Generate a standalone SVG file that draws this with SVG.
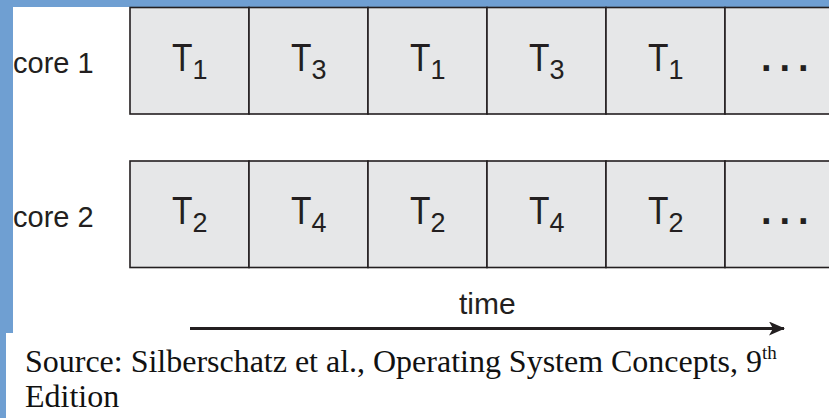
<svg xmlns="http://www.w3.org/2000/svg" width="829" height="418" viewBox="0 0 829 418">
  <style>
    .slot { fill: #e6e7e8; stroke: #231f20; stroke-width: 1.6; }
    .core { font-family: "Liberation Sans", Arial, sans-serif; font-size: 29px; fill: #231f20; }
    .task { font-family: "Liberation Sans", Arial, sans-serif; font-size: 39px; fill: #231f20; }
    .sub { font-size: 27px; }
    .more { font-family: "Liberation Sans", Arial, sans-serif; font-weight: bold; font-size: 38px; letter-spacing: 8px; fill: #231f20; }
    .time { font-family: "Liberation Sans", Arial, sans-serif; font-size: 30px; fill: #231f20; }
    .src { font-family: "Liberation Serif", "Times New Roman", serif; font-size: 32px; fill: #111111; }
    .sup { font-size: 19px; }
    .frame { fill: #6f9fd2; }
  </style>
  <defs>
    <marker id="arrowhead" markerUnits="userSpaceOnUse" markerWidth="16" markerHeight="14" refX="15" refY="7" orient="auto">
      <path d="M0,0 L16,7 L0,14 L4,7 Z" fill="#231f20"/>
    </marker>
  </defs>

  <rect width="829" height="418" fill="#ffffff"/>

  <!-- slide frame -->
  <rect class="frame" x="0" y="0" width="829" height="7"/>
  <rect class="frame" x="0" y="0" width="13" height="333"/>
  <rect class="frame" x="0" y="333" width="6" height="85"/>

  <!-- core 1 timeline -->
  <g id="core1">
    <text class="core" x="13" y="73">core 1</text>
    <g id="core1-slot1"><rect class="slot" x="130" y="7.5" width="119" height="106.5"/><text class="task" x="172" y="71"><tspan textLength="20.5" lengthAdjust="spacingAndGlyphs">T</tspan><tspan class="sub" dy="8">1</tspan></text></g>
    <g id="core1-slot2"><rect class="slot" x="249" y="7.5" width="119" height="106.5"/><text class="task" x="291" y="71"><tspan textLength="20.5" lengthAdjust="spacingAndGlyphs">T</tspan><tspan class="sub" dy="8">3</tspan></text></g>
    <g id="core1-slot3"><rect class="slot" x="368" y="7.5" width="119" height="106.5"/><text class="task" x="410" y="71"><tspan textLength="20.5" lengthAdjust="spacingAndGlyphs">T</tspan><tspan class="sub" dy="8">1</tspan></text></g>
    <g id="core1-slot4"><rect class="slot" x="487" y="7.5" width="119" height="106.5"/><text class="task" x="529" y="71"><tspan textLength="20.5" lengthAdjust="spacingAndGlyphs">T</tspan><tspan class="sub" dy="8">3</tspan></text></g>
    <g id="core1-slot5"><rect class="slot" x="606" y="7.5" width="119" height="106.5"/><text class="task" x="648" y="71"><tspan textLength="20.5" lengthAdjust="spacingAndGlyphs">T</tspan><tspan class="sub" dy="8">1</tspan></text></g>
    <g id="core1-slot6"><rect class="slot" x="725" y="7.5" width="119" height="106.5"/><text class="more" x="761" y="71">...</text></g>
  </g>

  <!-- core 2 timeline -->
  <g id="core2">
    <text class="core" x="13" y="226.5">core 2</text>
    <g id="core2-slot1"><rect class="slot" x="130" y="161" width="119" height="106.5"/><text class="task" x="172" y="224"><tspan textLength="20.5" lengthAdjust="spacingAndGlyphs">T</tspan><tspan class="sub" dy="8">2</tspan></text></g>
    <g id="core2-slot2"><rect class="slot" x="249" y="161" width="119" height="106.5"/><text class="task" x="291" y="224"><tspan textLength="20.5" lengthAdjust="spacingAndGlyphs">T</tspan><tspan class="sub" dy="8">4</tspan></text></g>
    <g id="core2-slot3"><rect class="slot" x="368" y="161" width="119" height="106.5"/><text class="task" x="410" y="224"><tspan textLength="20.5" lengthAdjust="spacingAndGlyphs">T</tspan><tspan class="sub" dy="8">2</tspan></text></g>
    <g id="core2-slot4"><rect class="slot" x="487" y="161" width="119" height="106.5"/><text class="task" x="529" y="224"><tspan textLength="20.5" lengthAdjust="spacingAndGlyphs">T</tspan><tspan class="sub" dy="8">4</tspan></text></g>
    <g id="core2-slot5"><rect class="slot" x="606" y="161" width="119" height="106.5"/><text class="task" x="648" y="224"><tspan textLength="20.5" lengthAdjust="spacingAndGlyphs">T</tspan><tspan class="sub" dy="8">2</tspan></text></g>
    <g id="core2-slot6"><rect class="slot" x="725" y="161" width="119" height="106.5"/><text class="more" x="761" y="224">...</text></g>
  </g>

  <!-- time axis -->
  <g id="connectors">
    <line x1="190" y1="328.5" x2="784" y2="328.5" stroke="#231f20" stroke-width="3" marker-end="url(#arrowhead)"/>
  </g>
  <text class="time" x="459" y="314">time</text>

  <!-- citation -->
  <text class="src" x="25" y="372"><tspan textLength="737" lengthAdjust="spacing">Source: Silberschatz et al., Operating System Concepts, 9</tspan><tspan class="sup" dy="-13">th</tspan></text>
  <text class="src" x="25" y="407">Edition</text>
</svg>
